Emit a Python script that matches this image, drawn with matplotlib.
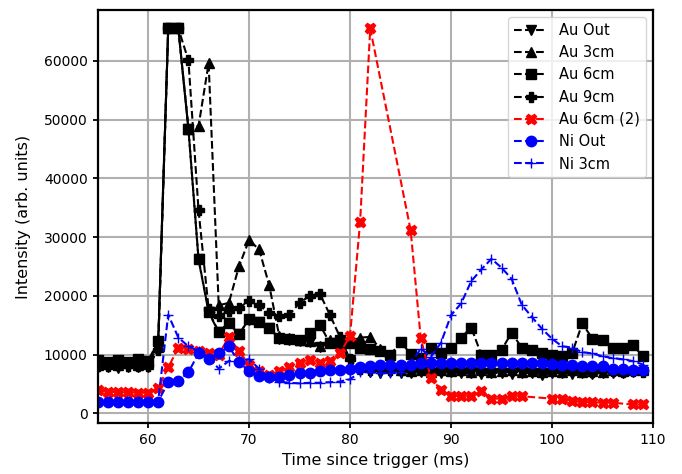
import numpy as np
import matplotlib
matplotlib.use('Agg')
import matplotlib.pyplot as plt

nan = np.nan

# time axis, ms (one point per ms)
t = np.arange(55, 110)

au_out = [7800, 7900, 7700, 7800, 7900, 7800,
          11000, 65535, 65535,
          48400, 26200, 17200, 13800, 15300, 13500, 15900, 15500, 14500, 12700,
          12500, 12300, 12200, 11300, 11900, 11800, 9000,
          7300, 7100, 6900, 7000, 6800, 6900, 7000, 6700, 6900, 7000,
          6800, 6900, 6700, 6900, 6800, 6700, 6900, 6800, 6600, 6800,
          6900, 6700, 6800, 6700, 6900, 6800, 6900, 7000, 7100]

au_3cm = [8300, 8400, 8200, 8500, 8300, 8400,
          11500, 65535, 65535,
          48500, 48900, 59600, 18400, 18800, 25000, 29500, 27900, 21800, 13100,
          12900, 12500, 12300, 11400, 12500, 12600, 12200, 12900, 13000, 11000, 8400,
          7300, 7200, 7400, 7100, 7300, 7200, 7400, 7100, 7300, 7000,
          7200, 7300, 7100, 7200, 7000, 7200, 7100, 7300, 7000, 7200,
          7100, 7300, 7200, 7400, 7300]

au_6cm = [9000, 8700, 9100, 8800, 9200, 8900,
          12300, 65535, 65535,
          48500, 26300, 17300, 13900, 15400, 13500, 16000, 15600, 14500, 12800,
          12600, 12400, 13700, 15100, 12000, 11900, 12000, 11200, 11000, 10600,
          9900, 12200, 10100, 9500, 11200, 10300, 11200, 12900, 14600, 10000,
          9900, 10800, 13700, 11200, 10800, 10200, 9900, 9800, 10300, 15300,
          12700, 12400, 11200, 11100, 11600, 9700]

au_9cm = [8100, 8000, 8200, 8000, 8100, 8000,
          10800, 65535, 65535,
          60100, 34600, 17800, 16600, 17400, 18000, 19100, 18400, 17100, 16500,
          16800, 18800, 20000, 20400, 16800, 13000, 9200,
          7500, 7400, 7600, 7300, 7500, 7400, 7600, 7300, 7500, 7400,
          7300, 7500, 7400, 7200, 7400, 7300, 7500, 7200, 7400, 7300,
          7200, 7400, 7300, 7100, 7300, 7200, 7000, 7200, 7100]

au_6cm_2 = [3900, 3700, 3600, 3600, 3500, 3500, 4300,
            7800, 11200, 10900, 10600, 10200, 10000, 13000, 10600, 8300, 7200,
            6600, 7200, 7800, 8600, 9000, 8500, 8900, 10200, 13200, 32600, 65535,
            nan, nan, nan,
            31200, 12800, 6000, 4000, 3000, 2900, 2900, 3800, 2500, 2500, 2900, 2900,
            nan, nan,
            2500, 2400, 2100, 1900, 1900, 1800, 1800,
            nan,
            1500, 1500]

ni_out = [2000, 2000, 2000, 2000, 2000, 2000, 2000,
          5300, 5500, 7000, 10200, 9300, 10200, 11400, 8700, 7200, 6300,
          6100, 6100, 6500, 6800, 6900, 7200, 7300, 7300, 7600, 7800,
          8000, 8200, 8200, 8300, 8300, 8500, 8600, 8500, 8500, 8600,
          8600, 8500, 8600, 8500, 8600, 8500, 8600, 8500, 8400, 8300,
          8200, 8100, 8100, 8000, 7600, 7500, 7400, 7300]

ni_3cm = [2000, 2000, 2000, 2000, 2000, 2000, 2000,
          16800, 12900, 11400, 10600, 9500, 7600, 8900, 9000, 9200, 7600,
          6000, 5400, 5200, 5100, 5200, 5200, 5300, 5400, 5800, 7000,
          7000, 6800, 6900, 7000, 8500, 11000, 9600, 12000, 16700, 18700,
          22500, 24500, 26300, 24800, 22900, 18500, 16400, 14400, 12700, 11400,
          11200, 10400, 10200, 9700, 9400, 9200, 8900, 8300]

series = [
    ('Au Out', au_out, 'k', 'v'),
    ('Au 3cm', au_3cm, 'k', '^'),
    ('Au 6cm', au_6cm, 'k', 's'),
    ('Au 9cm', au_9cm, 'k', 'P'),
    ('Au 6cm (2)', au_6cm_2, 'r', 'X'),
    ('Ni Out', ni_out, 'b', 'o'),
    ('Ni 3cm', ni_3cm, 'b', '+'),
]

fig = plt.figure(figsize=(6.82, 4.74), dpi=100)
ax = fig.add_axes([0.143, 0.107, 0.8145, 0.8726])

for name, vals, col, mk in series:
    y = np.array(vals, dtype=float)
    ok = ~np.isnan(y)
    ax.plot(t[ok], y[ok], linestyle='--', color=col, marker=mk,
            markersize=7.5, linewidth=1.5, label=name)

ax.set_xlim(55, 110)
ax.set_ylim(-1700, 68737)
ax.set_xticks([60, 70, 80, 90, 100, 110])
ax.set_yticks([0, 10000, 20000, 30000, 40000, 50000, 60000])
ax.grid(True, color='#b0b0b0', linewidth=1.5)
ax.set_axisbelow(True)
for s in ax.spines.values():
    s.set_linewidth(1.6)
ax.tick_params(width=1.3, length=3.5, labelsize=10)
ax.set_xlabel('Time since trigger (ms)', fontsize=11.5, labelpad=4)
ax.set_ylabel('Intensity (arb. units)', fontsize=11.5, labelpad=9)
ax.legend(loc='upper right', fontsize=10.5, handlelength=2.3, labelspacing=0.5)

fig.savefig('out.png', dpi=100)
